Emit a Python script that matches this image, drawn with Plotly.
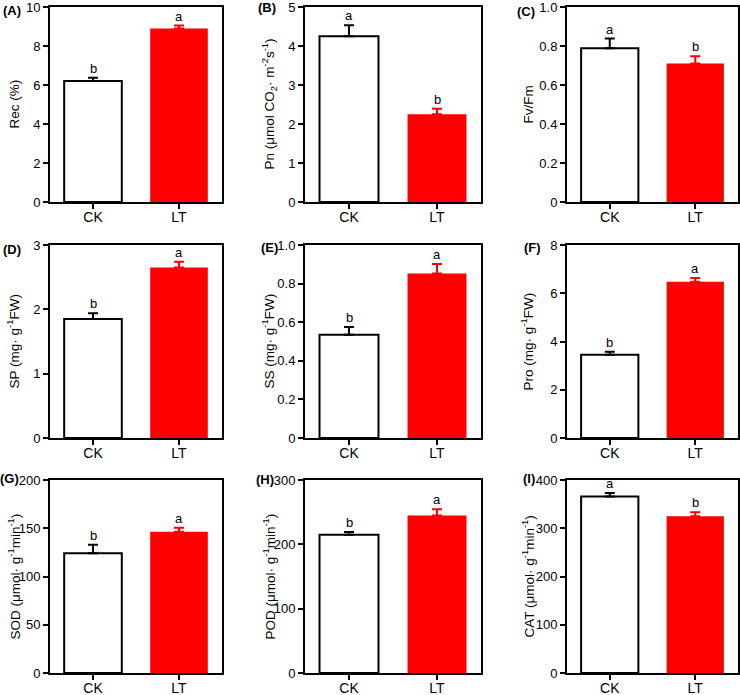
import plotly.graph_objects as go

categories = ["CK", "LT"]

panel_tags = ["(A)", "(B)", "(C)", "(D)", "(E)", "(F)", "(G)", "(H)", "(I)"]
y_titles = [
    "Rec (%)",
    "Pn (μmol CO<sub>2</sub>· m<sup>-2</sup>s<sup>-1</sup>)",
    "Fv/Fm",
    "SP (mg· g<sup>-1</sup>FW)",
    "SS (mg· g<sup>-1</sup>FW)",
    "Pro (mg· g<sup>-1</sup>FW)",
    "SOD (μmol· g<sup>-1</sup>min<sup>-1</sup>)",
    "POD (μmol· g<sup>-1</sup>min<sup>-1</sup>)",
    "CAT (μmol· g<sup>-1</sup>min<sup>-1</sup>)",
]

rec = [6.2, 8.9]
rec_err = [0.17, 0.15]
pn = [4.25, 2.25]
pn_err = [0.28, 0.14]
fvfm = [0.788, 0.71]
fvfm_err = [0.05, 0.038]
sp = [1.85, 2.65]
sp_err = [0.09, 0.09]
ss = [0.535, 0.852]
ss_err = [0.04, 0.05]
pro = [3.45, 6.48]
pro_err = [0.12, 0.15]
sod = [124, 146.5]
sod_err = [9, 4]
pod = [215, 245]
pod_err = [4, 9.5]
cat = [366, 325]
cat_err = [7, 8]

values = [rec, pn, fvfm, sp, ss, pro, sod, pod, cat]
errors = [rec_err, pn_err, fvfm_err, sp_err, ss_err, pro_err, sod_err, pod_err, cat_err]
letters = [["b", "a"], ["a", "b"], ["a", "b"], ["b", "a"], ["b", "a"],
           ["b", "a"], ["b", "a"], ["b", "a"], ["a", "b"]]

y_tickvals = [
    [0, 2, 4, 6, 8, 10],
    [0, 1, 2, 3, 4, 5],
    [0, 0.2, 0.4, 0.6, 0.8, 1.0],
    [0, 1, 2, 3],
    [0, 0.2, 0.4, 0.6, 0.8, 1.0],
    [0, 2, 4, 6, 8],
    [0, 50, 100, 150, 200],
    [0, 100, 200, 300],
    [0, 100, 200, 300, 400],
]
y_ticktext = [
    ["0", "2", "4", "6", "8", "10"],
    ["0", "1", "2", "3", "4", "5"],
    ["0", "0.2", "0.4", "0.6", "0.8", "1.0"],
    ["0", "1", "2", "3"],
    ["0", "0.2", "0.4", "0.6", "0.8", "1.0"],
    ["0", "2", "4", "6", "8"],
    ["0", "50", "100", "150", "200"],
    ["0", "100", "200", "300"],
    ["0", "100", "200", "300", "400"],
]

W, H = 740, 695
FONT = "Arial, Liberation Sans, sans-serif"
RED = "#ff0000"

# pixel layout of the panels
col_px = [(50, 222), (305, 481), (567, 738)]
row_px = [(7, 202), (245, 438), (480, 673)]
title_x_px = [14, 269, 528]
tag_right_px = [23, 278, 537, 23, 280, 543, 21, 276, 537]
tag_y_px = [10, 8, 11, 249, 248, 248, 478, 479, 478]

fig = go.Figure()
layout = dict(
    width=W, height=H,
    margin=dict(l=0, r=0, t=0, b=0),
    template="none",
    paper_bgcolor="white", plot_bgcolor="white",
    barmode="overlay",
    showlegend=False,
    font=dict(family=FONT, size=13, color="black"),
)
annotations = []

for i in range(9):
    r, c = divmod(i, 3)
    n = "" if i == 0 else str(i + 1)
    xa, ya = "x" + n, "y" + n
    x0, x1 = col_px[c]
    y0, y1 = row_px[r]
    ymax = y_tickvals[i][-1]
    for k, cat_name in enumerate(categories):
        is_ck = k == 0
        fig.add_trace(go.Bar(
            x=[cat_name], y=[values[i][k]],
            width=0.67,
            marker=dict(color="white" if is_ck else RED,
                        line=dict(color="black" if is_ck else RED, width=2 if is_ck else 0)),
            error_y=dict(type="data", symmetric=False, array=[errors[i][k]], arrayminus=[0],
                         color="black" if is_ck else RED, thickness=2, width=5),
            xaxis=xa, yaxis=ya,
        ))
        annotations.append(dict(
            x=cat_name, y=values[i][k] + errors[i][k], xref=xa, yref=ya,
            text=letters[i][k], showarrow=False, yanchor="bottom", yshift=0,
            font=dict(family=FONT, size=13, color="black"),
        ))
    layout["xaxis" + n] = dict(
        domain=[x0 / W, x1 / W], anchor=ya, type="category",
        categoryorder="array", categoryarray=categories,
        range=[-0.5, 1.5], showline=True, mirror=True, linecolor="black", linewidth=2,
        ticks="outside", ticklen=5, tickwidth=2, tickcolor="black",
        showgrid=False, zeroline=False, automargin=False,
        ticklabeloverflow="allow", ticklabelstandoff=-4,
        tickfont=dict(family=FONT, size=14, color="black"),
    )
    layout["yaxis" + n] = dict(
        domain=[1 - y1 / H, 1 - y0 / H], anchor=xa, range=[0, ymax],
        tickvals=y_tickvals[i], ticktext=y_ticktext[i],
        showline=True, mirror=True, linecolor="black", linewidth=2,
        ticks="outside", ticklen=5, tickwidth=2, tickcolor="black",
        showgrid=False, zeroline=False, automargin=False,
        ticklabeloverflow="allow",
        tickfont=dict(family=FONT, size=13, color="black"),
    )
    # y-axis title
    annotations.append(dict(
        x=title_x_px[c] / W, y=1 - (y0 + y1) / 2 / H, xref="paper", yref="paper",
        text=y_titles[i], textangle=-90, showarrow=False,
        xanchor="center", yanchor="middle",
        font=dict(family=FONT, size=13.5, color="black"),
    ))
    # panel tag
    annotations.append(dict(
        x=tag_right_px[i] / W, y=1 - tag_y_px[i] / H,
        xref="paper", yref="paper",
        text="<b>" + panel_tags[i] + "</b>", showarrow=False,
        xanchor="right", yanchor="middle", xshift=0,
        font=dict(family=FONT, size=13, color="black"),
    ))

layout["annotations"] = annotations
fig.update_layout(**layout)
fig.write_html(
    "out.html",
    config={"displayModeBar": False},
    post_script="document.body.style.margin='0';document.body.style.padding='0';",
)
